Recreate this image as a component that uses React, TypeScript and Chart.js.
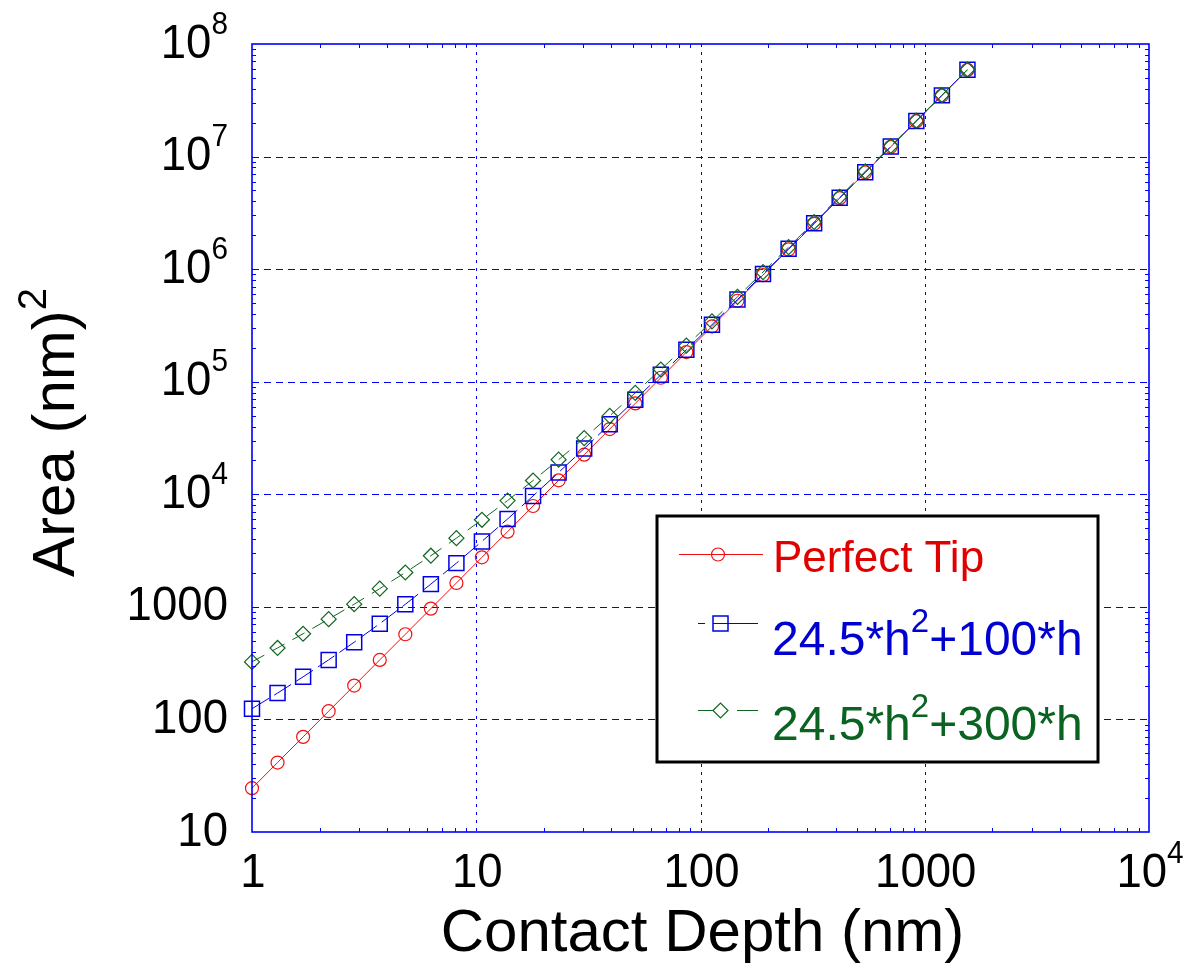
import { useEffect, useRef } from 'react';
import { Chart, registerables } from 'chart.js';

Chart.register(...registerables);

// Contact depth h (nm), geometric steps of 1.3
const depthNm = [
  1, 1.3, 1.69, 2.197, 2.856, 3.713, 4.827, 6.275, 8.157, 10.60, 13.79, 17.92, 23.30, 30.29,
  39.37, 51.19, 66.54, 86.50, 112.5, 146.2, 190.0, 247.1, 321.2, 417.5, 542.8, 705.6, 917.3,
  1192.5, 1550.3,
];

// Projected contact area (nm^2) for each tip shape
const areaPerfectTip = [
  24.5, 41.4, 70.0, 118.3, 199.9, 337.8, 570.8, 964.7, 1630, 2755, 4656, 7869, 13299, 22475,
  37982, 64190, 108481, 183333, 309832, 523617, 884912, 1495502, 2527398, 4271303, 7218501,
  12199268, 20616762, 34842332, 58883545,
];
const areaOffset100 = [
  124.5, 171.4, 239.0, 338.0, 485.5, 709.0, 1053.5, 1592.1, 2446, 3816, 6035, 9661, 15628,
  25504, 41920, 69309, 115135, 191983, 321078, 538236, 903917, 1520208, 2559516, 4313057,
  7272781, 12269832, 20708495, 34961585, 59038574,
];
const areaOffset300 = [
  324.5, 431.4, 577.0, 777.4, 1056.7, 1451.6, 2018.8, 2847.1, 4077.5, 5936.5, 8792, 13246,
  20288, 31561, 49794, 79546, 128443, 209284, 343569, 567475, 941927, 1569621, 2623753,
  4396565, 7381341, 12410960, 20891962, 35200092, 59348633,
];

// Decade ticks with [mantissa, exponent] labels
const xDecades = [1, 10, 100, 1000, 10000];
const xTickLabels = [['1', ''], ['10', ''], ['100', ''], ['1000', ''], ['10', '4']];
const yDecades = [10, 100, 1000, 1e4, 1e5, 1e6, 1e7, 1e8];
const yTickLabels = [
  ['10', ''], ['100', ''], ['1000', ''], ['10', '4'], ['10', '5'], ['10', '6'], ['10', '7'], ['10', '8'],
];

const seriesLabels = [
  ['Perfect Tip', '', ''],
  ['24.5*h', '2', '+100*h'],
  ['24.5*h', '2', '+300*h'],
];
const xTitle = 'Contact Depth (nm)';
const yTitle = ['Area (nm)', '2'];

const RED = '#f01010';
const BLUE = '#0000e6';
const GREEN = '#11661f';
const RED_TEXT = '#e00000';
const BLUE_TEXT = '#0000d0';
const GREEN_TEXT = '#0a6320';
const FONT = '"Liberation Sans", Arial, Helvetica, sans-serif';

type Part = { text: string; size: number; rise: number };

function richWidth(ctx: CanvasRenderingContext2D, parts: Part[], sx: number) {
  let w = 0;
  for (const p of parts) {
    ctx.font = `${p.size}px ${FONT}`;
    w += ctx.measureText(p.text).width;
  }
  return w * sx;
}

function drawRich(
  ctx: CanvasRenderingContext2D,
  parts: Part[],
  x: number,
  y: number,
  align: 'left' | 'right' | 'center',
  sx: number,
  color: string,
) {
  const w = richWidth(ctx, parts, sx);
  let cx = align === 'left' ? x : align === 'right' ? x - w : x - w / 2;
  ctx.save();
  ctx.fillStyle = color;
  ctx.textAlign = 'left';
  ctx.textBaseline = 'alphabetic';
  for (const p of parts) {
    if (!p.text) continue;
    ctx.font = `${p.size}px ${FONT}`;
    const pw = ctx.measureText(p.text).width;
    ctx.save();
    ctx.translate(cx, y - p.rise);
    ctx.scale(sx, 1);
    ctx.fillText(p.text, 0, 0);
    ctx.restore();
    cx += pw * sx;
  }
  ctx.restore();
}

function tickParts(label: string[]): Part[] {
  return [
    { text: label[0], size: 49, rise: 0 },
    { text: label[1], size: 32, rise: 24 },
  ];
}

function drawMarker(ctx: CanvasRenderingContext2D, kind: string, x: number, y: number, color: string) {
  ctx.save();
  ctx.strokeStyle = color;
  ctx.setLineDash([]);
  ctx.beginPath();
  if (kind === 'circle') {
    ctx.lineWidth = 1.2;
    ctx.arc(x, y, 6.5, 0, Math.PI * 2);
  } else if (kind === 'rect') {
    ctx.lineWidth = 1.5;
    ctx.rect(x - 7.5, y - 7.5, 15, 15);
  } else {
    ctx.lineWidth = 1.2;
    ctx.moveTo(x - 7.5, y);
    ctx.lineTo(x, y - 7.5);
    ctx.lineTo(x + 7.5, y);
    ctx.lineTo(x, y + 7.5);
    ctx.closePath();
  }
  ctx.stroke();
  ctx.restore();
}

const framePlugin = {
  id: 'frameAndLabels',
  beforeDatasetsDraw(chart: any) {
    const { ctx, chartArea: a, scales } = chart;
    const xs = scales.x;
    const ys = scales.y;
    ctx.save();
    ctx.strokeStyle = '#0000ff';
    ctx.lineWidth = 1;
    ctx.setLineDash([3, 5]);
    for (const v of xDecades.slice(1, -1)) {
      const px = Math.round(xs.getPixelForValue(v)) + 0.5;
      ctx.beginPath();
      ctx.moveTo(px, a.top);
      ctx.lineTo(px, a.bottom);
      ctx.stroke();
    }
    ctx.setLineDash([7, 5]);
    for (const v of yDecades.slice(1, -1)) {
      const py = Math.round(ys.getPixelForValue(v)) + 0.5;
      ctx.beginPath();
      ctx.moveTo(a.left, py);
      ctx.lineTo(a.right, py);
      ctx.stroke();
    }
    ctx.restore();
  },
  afterDatasetsDraw(chart: any) {
    const { ctx, chartArea: a, scales } = chart;
    const xs = scales.x;
    const ys = scales.y;
    ctx.save();
    ctx.strokeStyle = '#0000ff';
    ctx.setLineDash([]);
    // minor ticks inside the frame
    ctx.lineWidth = 1;
    for (const d of xDecades.slice(0, -1)) {
      for (let m = 2; m <= 9; m++) {
        const px = Math.round(xs.getPixelForValue(m * d)) + 0.5;
        ctx.beginPath();
        ctx.moveTo(px, a.bottom);
        ctx.lineTo(px, a.bottom - 4);
        ctx.moveTo(px, a.top);
        ctx.lineTo(px, a.top + 4);
        ctx.stroke();
      }
    }
    for (const d of yDecades.slice(0, -1)) {
      for (let m = 2; m <= 9; m++) {
        const py = Math.round(ys.getPixelForValue(m * d)) + 0.5;
        ctx.beginPath();
        ctx.moveTo(a.left, py);
        ctx.lineTo(a.left + 4, py);
        ctx.moveTo(a.right, py);
        ctx.lineTo(a.right - 4, py);
        ctx.stroke();
      }
    }
    ctx.lineWidth = 1.6;
    ctx.strokeRect(a.left, a.top, a.right - a.left, a.bottom - a.top);
    ctx.restore();
  },
  afterDraw(chart: any) {
    const { ctx, chartArea: a, scales } = chart;
    const xs = scales.x;
    const ys = scales.y;
    const sx = 0.93;

    // tick labels
    yDecades.forEach((v, i) => {
      const py = ys.getPixelForValue(v);
      drawRich(ctx, tickParts(yTickLabels[i]), 228, py + 13.5, 'right', sx, '#000');
    });
    xDecades.forEach((v, i) => {
      const px = xs.getPixelForValue(v);
      drawRich(ctx, tickParts(xTickLabels[i]), px + 1, a.bottom + 55, 'center', sx, '#000');
    });

    // axis titles
    drawRich(ctx, [{ text: xTitle, size: 60, rise: 0 }], (a.left + a.right) / 2 + 2, 951, 'center', 1, '#000');
    ctx.save();
    ctx.translate(74, 577);
    ctx.rotate(-Math.PI / 2);
    drawRich(
      ctx,
      [
        { text: yTitle[0], size: 60, rise: 0 },
        { text: yTitle[1], size: 40, rise: 28 },
      ],
      0,
      0,
      'left',
      1,
      '#000',
    );
    ctx.restore();

    // legend box
    const bx = 657;
    const by = 516;
    const bw = 441;
    const bh = 246;
    ctx.save();
    ctx.fillStyle = '#ffffff';
    ctx.fillRect(bx, by, bw, bh);
    ctx.strokeStyle = '#000';
    ctx.lineWidth = 3;
    ctx.strokeRect(bx, by, bw, bh);

    // row 1: solid red
    ctx.strokeStyle = RED;
    ctx.lineWidth = 1;
    ctx.beginPath();
    ctx.moveTo(679, 554.5);
    ctx.lineTo(763, 554.5);
    ctx.stroke();
    drawMarker(ctx, 'circle', 718, 554.5, RED);
    drawRich(ctx, [{ text: seriesLabels[0][0], size: 44, rise: 0 }], 773, 572, 'left', 1, RED_TEXT);

    // row 2: blue
    ctx.strokeStyle = BLUE;
    ctx.lineWidth = 1;
    ctx.setLineDash([7, 8, 60]);
    ctx.beginPath();
    ctx.moveTo(698, 623.5);
    ctx.lineTo(758, 623.5);
    ctx.stroke();
    ctx.setLineDash([]);
    drawMarker(ctx, 'rect', 720.5, 623.5, BLUE);
    drawRich(
      ctx,
      [
        { text: seriesLabels[1][0], size: 48, rise: 0 },
        { text: seriesLabels[1][1], size: 33, rise: 23.5 },
        { text: seriesLabels[1][2], size: 48, rise: 0 },
      ],
      772,
      655,
      'left',
      1,
      BLUE_TEXT,
    );

    // row 3: green
    ctx.strokeStyle = GREEN;
    ctx.lineWidth = 1;
    ctx.setLineDash([15, 24, 30]);
    ctx.beginPath();
    ctx.moveTo(698, 710.5);
    ctx.lineTo(758, 710.5);
    ctx.stroke();
    ctx.setLineDash([]);
    drawMarker(ctx, 'diamond', 720.5, 710.5, GREEN);
    drawRich(
      ctx,
      [
        { text: seriesLabels[2][0], size: 48, rise: 0 },
        { text: seriesLabels[2][1], size: 33, rise: 23.5 },
        { text: seriesLabels[2][2], size: 48, rise: 0 },
      ],
      772,
      740,
      'left',
      1,
      GREEN_TEXT,
    );
    ctx.restore();
  },
};

function points(values: number[]) {
  return depthNm.map((h, i) => ({ x: h, y: values[i] }));
}

export default function App() {
  const canvasRef = useRef<HTMLCanvasElement | null>(null);

  useEffect(() => {
    const canvas = canvasRef.current;
    if (!canvas) return;
    const chart = new Chart(canvas, {
      type: 'line',
      data: {
        datasets: [
          {
            label: 'Perfect Tip',
            data: points(areaPerfectTip),
            borderColor: RED,
            borderWidth: 1,
            pointStyle: 'circle',
            pointRadius: 6.5,
            pointBorderWidth: 1.2,
            pointBorderColor: RED,
            pointBackgroundColor: 'rgba(0,0,0,0)',
            clip: false,
            order: 2,
          },
          {
            label: '24.5*h^2+100*h',
            data: points(areaOffset100),
            borderColor: BLUE,
            borderWidth: 1,
            borderDash: [20, 6],
            pointStyle: 'rect',
            pointRadius: 10.6,
            pointBorderWidth: 1.5,
            pointBorderColor: BLUE,
            pointBackgroundColor: 'rgba(0,0,0,0)',
            clip: false,
            order: 1,
          },
          {
            label: '24.5*h^2+300*h',
            data: points(areaOffset300),
            borderColor: GREEN,
            borderWidth: 1,
            borderDash: [14, 9],
            pointStyle: 'rectRot',
            pointRadius: 7.5,
            pointBorderWidth: 1.2,
            pointBorderColor: GREEN,
            pointBackgroundColor: 'rgba(0,0,0,0)',
            clip: false,
            order: 0,
          },
        ],
      },
      options: {
        responsive: false,
        animation: false,
        events: [],
        layout: { padding: { left: 252, right: 42, top: 44, bottom: 142 } },
        scales: {
          x: { type: 'logarithmic', min: 1, max: 10000, display: false },
          y: { type: 'logarithmic', min: 10, max: 1e8, display: false },
        },
        plugins: {
          legend: { display: false },
          tooltip: { enabled: false },
        },
      },
      plugins: [framePlugin],
    } as any);
    return () => chart.destroy();
  }, []);

  return (
    <div style={{ position: 'absolute', left: 0, top: 0, width: 1191, height: 974, background: '#fff' }}>
      <canvas ref={canvasRef} width={1191} height={974} style={{ display: 'block', width: 1191, height: 974 }} />
    </div>
  );
}
